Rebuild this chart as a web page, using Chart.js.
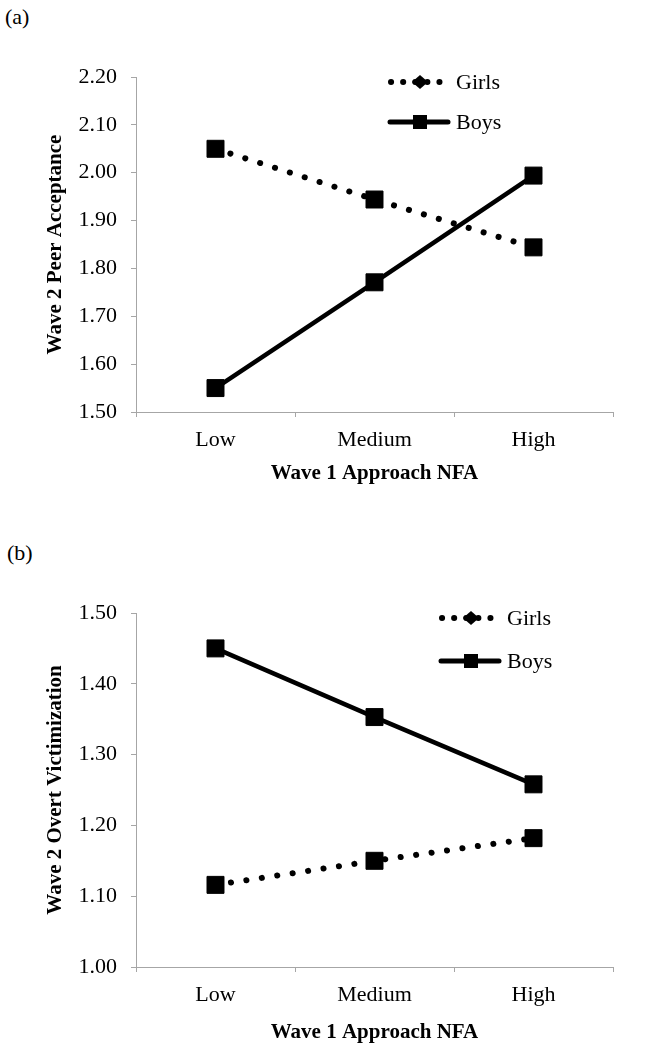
<!DOCTYPE html>
<html>
<head>
<meta charset="utf-8">
<script src="https://cdn.jsdelivr.net/npm/chart.js@4.4.0/dist/chart.umd.min.js"></script>
<style>
    body {
        margin: 0;
        background: #fff;
        width: 667px;
        height: 1050px;
        position: relative;
        overflow: hidden;
        font-family: "Liberation Serif", "Times New Roman", serif;
    }
    .panel-label {
        position: absolute;
        font-size: 22px;
        line-height: 24px;
    }
    canvas {
        position: absolute;
        left: 0;
    }
</style>
</head>
<body>
<div class="panel-label" style="left:5px; top:5px;">(a)</div>
<div class="panel-label" style="left:7px; top:541px;">(b)</div>
<canvas id="chartA" width="667" height="520" style="top:0px;"></canvas>
<canvas id="chartB" width="667" height="530" style="top:520px;"></canvas>
<script>
const categories = ['Low', 'Medium', 'High'];
const seriesNames = ['Girls', 'Boys'];

// panel (a)
const peerGirls = [2.05, 1.944, 1.844];
const peerBoys = [1.55, 1.771, 1.994];
const peerTicks = [1.50, 1.60, 1.70, 1.80, 1.90, 2.00, 2.10, 2.20];

// panel (b)
const victGirls = [1.116, 1.150, 1.182];
const victBoys = [1.450, 1.353, 1.258];
const victTicks = [1.00, 1.10, 1.20, 1.30, 1.40, 1.50];

const xTitle = 'Wave 1 Approach NFA';
const FONT = '"Liberation Serif", "Times New Roman", serif';
const AXIS_GREY = '#a6a6a6';

// legend with a short line sample + marker, like the Excel one
const lineLegend = {
    id: 'lineLegend',
    afterDraw(chart, args, opts) {
        const ctx = chart.ctx;
        chart.data.datasets.forEach((ds, i) => {
            const y = opts.y + i * opts.rowGap;
            const x0 = opts.x;
            const x1 = opts.x + 62;
            const mx = opts.x + 32;
            ctx.save();
            ctx.strokeStyle = '#000';
            ctx.fillStyle = '#000';
            ctx.lineWidth = opts.dashes[i].length ? 6 : 5;
            ctx.lineCap = 'round';
            ctx.setLineDash(opts.dashes[i]);
            ctx.beginPath();
            if (opts.dashes[i].length) {
                ctx.moveTo(x0 + 3, y);
                ctx.lineTo(x1 - 8, y);
            } else {
                ctx.moveTo(x0 + 2, y);
                ctx.lineTo(x1 - 2, y);
            }
            ctx.stroke();
            ctx.setLineDash([]);
            ctx.beginPath();
            if (opts.markers[i] === 'diamond') {
                ctx.moveTo(mx, y - 7);
                ctx.lineTo(mx + 8, y);
                ctx.lineTo(mx, y + 7);
                ctx.lineTo(mx - 8, y);
                ctx.closePath();
            } else {
                ctx.rect(mx - 7, y - 7, 14, 14);
            }
            ctx.fill();
            ctx.font = '22px ' + FONT;
            ctx.textBaseline = 'middle';
            ctx.textAlign = 'left';
            ctx.fillText(ds.label, x0 + 68, y + 1);
            ctx.restore();
        });
    }
};

function makeChart(id, girls, boys, yTicks, yTitle, L) {
    const ctx = document.getElementById(id).getContext('2d');
    return new Chart(ctx, {
        type: 'line',
        data: {
            labels: categories,
            datasets: [{
                label: seriesNames[0],
                data: girls,
                borderColor: '#000',
                borderWidth: 6,
                borderDash: [0.1, 15.5],
                borderCapStyle: 'round',
                pointStyle: 'rect',
                pointRadius: 12,
                pointBackgroundColor: '#000',
                pointBorderColor: '#000',
                pointBorderWidth: 1
            }, {
                label: seriesNames[1],
                data: boys,
                borderColor: '#000',
                borderWidth: 4.5,
                pointStyle: 'rect',
                pointRadius: 12,
                pointBackgroundColor: '#000',
                pointBorderColor: '#000',
                pointBorderWidth: 1
            }]
        },
        options: {
            responsive: false,
            animation: false,
            layout: {
                padding: { top: L.top, right: 54, left: 0, bottom: 0 }
            },
            plugins: {
                legend: { display: false },
                tooltip: { enabled: false },
                lineLegend: {
                    x: L.legendX,
                    y: L.legendY,
                    rowGap: L.legendGap,
                    dashes: [[0.1, 12], []],
                    markers: ['diamond', 'square']
                }
            },
            scales: {
                x: {
                    offset: true,
                    grid: {
                        offset: true,
                        drawOnChartArea: false,
                        tickLength: 5,
                        color: AXIS_GREY
                    },
                    border: { color: AXIS_GREY, width: 1 },
                    ticks: {
                        color: '#000',
                        padding: 10,
                        font: { family: FONT, size: 22 }
                    },
                    title: {
                        display: true,
                        text: xTitle,
                        color: '#000',
                        font: { family: FONT, size: 21, weight: 'bold' },
                        padding: { top: 0, bottom: L.xTitlePad }
                    },
                    afterFit: s => { s.height = L.xAxisH; }
                },
                y: {
                    min: yTicks[0],
                    max: yTicks[yTicks.length - 1],
                    afterBuildTicks: s => { s.ticks = yTicks.map(v => ({ value: v })); },
                    grid: {
                        drawOnChartArea: false,
                        tickLength: 5,
                        color: AXIS_GREY
                    },
                    border: { color: AXIS_GREY, width: 1 },
                    ticks: {
                        color: '#000',
                        padding: 14,
                        font: { family: FONT, size: 22 },
                        callback: v => Number(v).toFixed(2)
                    },
                    title: {
                        display: true,
                        text: yTitle,
                        color: '#000',
                        font: { family: FONT, size: 21, weight: 'bold' },
                        padding: { top: 43.4, bottom: 0 }
                    },
                    afterFit: s => { s.width = 136; }
                }
            }
        },
        plugins: [lineLegend]
    });
}

makeChart('chartA', peerGirls, peerBoys, peerTicks, 'Wave 2 Peer Acceptance', {
    top: 77, xAxisH: 108, xTitlePad: 33.4,
    legendX: 388, legendY: 82, legendGap: 40
});

makeChart('chartB', victGirls, victBoys, victTicks, 'Wave 2 Overt Victimization', {
    top: 93, xAxisH: 83, xTitlePad: 4.4,
    legendX: 439, legendY: 98, legendGap: 43
});
</script>
</body>
</html>
